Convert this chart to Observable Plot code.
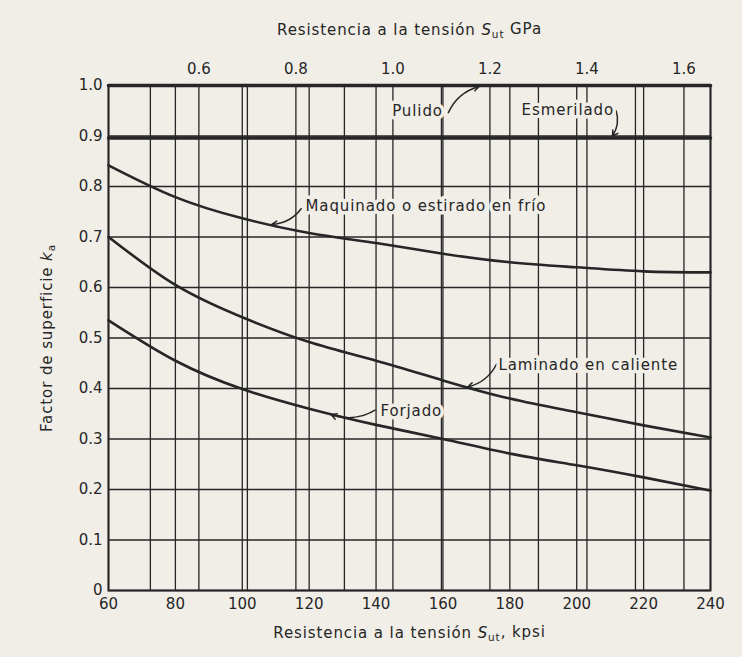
<!DOCTYPE html>
<html>
<head>
<meta charset="utf-8">
<script src="https://cdn.jsdelivr.net/npm/d3@7"></script>
<script src="https://cdn.jsdelivr.net/npm/@observablehq/plot@0.6"></script>
<style>
  html, body { margin: 0; padding: 0; background: #f1eee8; }
</style>
</head>
<body>
<div id="chart"></div>
<script>
// ---- data ----
const kpsi = [60, 80, 100, 120, 140, 160, 180, 200, 220, 240];
const maquinado = [0.842, 0.779, 0.737, 0.708, 0.688, 0.667, 0.650, 0.640, 0.632, 0.630];
const laminado  = [0.700, 0.605, 0.541, 0.492, 0.455, 0.416, 0.380, 0.353, 0.327, 0.303];
const forjado   = [0.535, 0.455, 0.399, 0.360, 0.328, 0.300, 0.271, 0.248, 0.224, 0.198];
const esmerilado = [0.896, 0.896, 0.896, 0.896, 0.896, 0.896, 0.896, 0.896, 0.896, 0.896];
const pulido     = [1.0, 1.0, 1.0, 1.0, 1.0, 1.0, 1.0, 1.0, 1.0, 1.0];

const kpsiTicks = [60, 80, 100, 120, 140, 160, 180, 200, 220, 240];
const gpaGrid   = [0.5, 0.6, 0.7, 0.8, 0.9, 1.0, 1.1, 1.2, 1.3, 1.4, 1.5, 1.6];
const gpaLabels = [0.6, 0.8, 1.0, 1.2, 1.4, 1.6];
const yTicks    = [0, 0.1, 0.2, 0.3, 0.4, 0.5, 0.6, 0.7, 0.8, 0.9, 1.0];
const KPSI_PER_GPA = 145.038;

const labelNames = ["Pulido", "Esmerilado", "Maquinado o estirado en frío", "Laminado en caliente", "Forjado"];
const labelX     = [152.4, 183.5, 118.9, 176.6, 141.3];
const labelY     = [0.950, 0.952, 0.762, 0.446, 0.356];
const labelAnchor = ["middle", "start", "start", "start", "start"];
// leader lines: from near the label to the curve
const leadX1 = [161.6, 211.8, 117.6, 176.0, 139.7];
const leadY1 = [0.946, 0.950, 0.756, 0.448, 0.357];
const leadX2 = [170.8, 210.7, 108.8, 167.4, 126.6];
const leadY2 = [0.998, 0.900, 0.725, 0.403, 0.348];

const titleTop    = "Resistencia a la tensión S_ut GPa";
const titleBottom = "Resistencia a la tensión S_ut, kpsi";
const titleY      = "Factor de superficie k_a";

// ---- build tables ----
const curveRows = [];
const series = [["Maquinado", maquinado], ["Laminado", laminado], ["Forjado", forjado]];
for (const [name, vals] of series) kpsi.forEach((x, i) => curveRows.push({name, x, y: vals[i]}));
const esmRows = kpsi.map((x, i) => ({name: "Esmerilado", x, y: esmerilado[i]}));
const pulRows = kpsi.map((x, i) => ({name: "Pulido", x, y: pulido[i]}));
const labelRows = labelNames.map((t, i) => ({t, x: labelX[i], y: labelY[i], a: labelAnchor[i]}));
const leaderRows = labelNames.map((t, i) => ({x1: leadX1[i], y1: leadY1[i], x2: leadX2[i], y2: leadY2[i]}));
const xGrid = [...kpsiTicks, ...gpaGrid.map(g => g * KPSI_PER_GPA)];

const ink = "#262626";
const bg = "#f1eee8";
const font = "DejaVu Sans";

const chart = Plot.plot({
  width: 742,
  height: 657,
  marginLeft: 108,
  marginRight: 32,
  marginTop: 85,
  marginBottom: 67,
  x: {domain: [60, 240]},
  y: {domain: [0, 1]},
  style: {background: bg, fontFamily: font, fontSize: "15px", color: ink},
  marks: [
    Plot.ruleX(xGrid, {stroke: ink, strokeWidth: 1.3}),
    Plot.ruleY(yTicks, {stroke: ink, strokeWidth: 1.5}),
    Plot.line(esmRows, {x: "x", y: "y", stroke: ink, strokeWidth: 3.5}),
    Plot.line(pulRows, {x: "x", y: "y", stroke: ink, strokeWidth: 3.5}),
    Plot.line(curveRows, {x: "x", y: "y", z: "name", stroke: ink, strokeWidth: 2.6, curve: "natural"}),
    Plot.frame({stroke: ink, strokeWidth: 2}),
    Plot.arrow(leaderRows, {x1: "x1", y1: "y1", x2: "x2", y2: "y2", stroke: ink, strokeWidth: 1.5, bend: 25, headLength: 6}),
    Plot.text(labelRows.filter(d => d.a === "middle"), {x: "x", y: "y", text: "t", textAnchor: "middle",
      fill: ink, stroke: bg, strokeWidth: 7, fontSize: 15, fontFamily: font}),
    Plot.text(labelRows.filter(d => d.a === "start"), {x: "x", y: "y", text: "t", textAnchor: "start",
      fill: ink, stroke: bg, strokeWidth: 7, fontSize: 15, fontFamily: font}),
    Plot.axisX(kpsiTicks, {anchor: "bottom", tickSize: 0, tickPadding: 8, label: null, fontSize: 15, fill: ink}),
    Plot.axisX(gpaLabels.map(g => g * KPSI_PER_GPA), {anchor: "top", tickSize: 0, tickPadding: 12, label: null,
      tickFormat: d => (d / KPSI_PER_GPA).toFixed(1), fontSize: 15, fill: ink}),
    Plot.axisY(yTicks, {anchor: "left", tickSize: 0, tickPadding: 6, label: null,
      tickFormat: d => d === 0 ? "0" : d.toFixed(1), fontSize: 15, fill: ink}),
    Plot.text([titleTop], {frameAnchor: "top", textAnchor: "middle", lineAnchor: "middle", dy: -55,
      fontSize: 15, fill: ink, fontFamily: font}),
    Plot.text([titleBottom], {frameAnchor: "bottom", textAnchor: "middle", lineAnchor: "middle", dy: 43,
      fontSize: 15, fill: ink, fontFamily: font}),
    Plot.text([titleY], {frameAnchor: "left", textAnchor: "middle", lineAnchor: "middle", dx: -61, rotate: -90,
      fontSize: 15, fill: ink, fontFamily: font})
  ]
});

// rich text: italic variable with subscript, plus wider letter spacing for titles and labels
const spaced = new Set([...labelNames, titleTop, titleBottom, titleY]);
d3.select(chart).selectAll("text").each(function() {
  const t = this.textContent;
  if (spaced.has(t)) this.setAttribute("letter-spacing", "0.9");
  const m = t.match(/^(.*?)(\w)_(\w+)(.*)$/);
  if (!m || this.querySelector("tspan")) return;
  const el = d3.select(this);
  el.text(null);
  el.append("tspan").text(m[1]);
  el.append("tspan").attr("font-style", "italic").text(m[2]);
  el.append("tspan").attr("font-size", "70%").attr("dy", "0.3em").text(m[3]);
  el.append("tspan").attr("dy", "-0.3em").text(m[4]);
});

document.getElementById("chart").appendChild(chart);
</script>
</body>
</html>
